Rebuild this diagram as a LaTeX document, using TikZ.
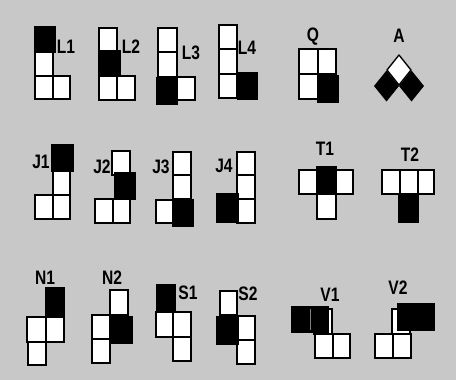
\documentclass[tikz,border=0pt]{standalone}
\usepackage{fontspec}
\newfontfamily\labfont[FakeStretch=0.8]{Liberation Sans Bold}
\definecolor{bg}{RGB}{200,200,200}
\begin{document}
\begin{tikzpicture}[x=1pt,y=-1pt,
  wcell/.style={draw=black,fill=white,line width=1.6pt},
  bcell/.style={draw=black,fill=black,line width=1.2pt},
  lab/.style={font=\labfont\fontsize{19.5}{19.5}\selectfont,inner sep=0pt,anchor=center}]
\fill[bg] (0,0) rectangle (456,380);
\useasboundingbox (0,0) rectangle (456,380);
% ---------- row 1 ----------
% L1
\draw[wcell] (35,52) rectangle (53,76);
\draw[wcell] (35,76) rectangle (53,99);
\draw[wcell] (53,76) rectangle (70,99);
\draw[bcell] (35,27) rectangle (55,52);
\node[lab] (lL1) at (66,47) {L1};
% L2
\draw[wcell] (99,28) rectangle (117,52);
\draw[wcell] (99,76) rectangle (117,100);
\draw[wcell] (117,76) rectangle (135,100);
\draw[bcell] (99,51) rectangle (120,76);
\node[lab] (lL2) at (131,47) {L2};
% L3
\draw[wcell] (158,28) rectangle (177,52);
\draw[wcell] (158,52) rectangle (177,77);
\draw[wcell] (177,77) rectangle (195,100);
\draw[bcell] (157,78) rectangle (177,104);
\node[lab] (lL3) at (191,53) {L3};
% L4
\draw[wcell] (219,25) rectangle (237,49);
\draw[wcell] (219,49) rectangle (237,74);
\draw[wcell] (219,74) rectangle (237,98);
\draw[bcell] (238,73) rectangle (257,99);
\node[lab] (lL4) at (247,48) {L4};
% Q
\draw[wcell] (299,49) rectangle (318,74);
\draw[wcell] (318,49) rectangle (336,74);
\draw[wcell] (299,74) rectangle (318,99);
\draw[bcell] (318,76) rectangle (338,102);
\node[lab] (lQ) at (313,37) {Q};
% A
\node[lab] (lA) at (399,36) {A};
\fill[black] (386.5,70.5) -- (399,86) -- (386.5,101.5) -- (374,86) -- cycle;
\fill[black] (411.5,70.5) -- (424,86) -- (411.5,101.5) -- (399,86) -- cycle;
\draw[fill=white,line width=1.4pt,line join=round] (399,55) -- (411,70) -- (399,85) -- (387,70) -- cycle;
% ---------- row 2 ----------
% J1
\draw[wcell] (53,171) rectangle (70,195);
\draw[wcell] (35,195) rectangle (53,219);
\draw[wcell] (53,195) rectangle (70,219);
\draw[bcell] (52,145) rectangle (73,171);
\node[lab] (lJ1) at (41,162) {J1};
% J2
\draw[wcell] (112,151) rectangle (130,175);
\draw[wcell] (95,199) rectangle (113,223);
\draw[wcell] (113,199) rectangle (130,223);
\draw[bcell] (115,173) rectangle (135,199);
\node[lab] (lJ2) at (102,167) {J2};
% J3
\draw[wcell] (173,152) rectangle (191,175);
\draw[wcell] (173,175) rectangle (191,199);
\draw[wcell] (156,200) rectangle (173,223);
\draw[bcell] (173,200) rectangle (193,226);
\node[lab] (lJ3) at (161,167) {J3};
% J4
\draw[wcell] (237,152) rectangle (255,175);
\draw[wcell] (237,175) rectangle (255,199);
\draw[wcell] (237,199) rectangle (255,223);
\draw[bcell] (217,194) rectangle (238,222);
\node[lab] (lJ4) at (224,166) {J4};
% T1
\draw[wcell] (299,170) rectangle (317,194);
\draw[wcell] (336,170) rectangle (353,194);
\draw[wcell] (317,194) rectangle (336,219);
\draw[bcell] (317,167) rectangle (336,192);
\node[lab] (lT1) at (325,149) {T1};
% T2
\draw[wcell] (382,170) rectangle (400,194);
\draw[wcell] (400,170) rectangle (418,194);
\draw[wcell] (418,170) rectangle (434,194);
\draw[bcell] (399,194) rectangle (418,222);
\node[lab] (lT2) at (410,155) {T2};
% ---------- row 3 ----------
% N1
\draw[wcell] (27,317) rectangle (46,342);
\draw[wcell] (46,317) rectangle (64,342);
\draw[wcell] (28,342) rectangle (46,365);
\draw[bcell] (46,288) rectangle (64,316);
\node[lab] (lN1) at (45,278) {N1};
% N2
\draw[wcell] (110,290) rectangle (128,315);
\draw[wcell] (92,315) rectangle (110,339);
\draw[wcell] (92,339) rectangle (110,363);
\draw[bcell] (110,317) rectangle (132,343);
\node[lab] (lN2) at (112,278) {N2};
% S1
\draw[wcell] (156,312) rectangle (173,337);
\draw[wcell] (173,312) rectangle (191,337);
\draw[wcell] (173,337) rectangle (191,361);
\draw[bcell] (157,285) rectangle (175,310);
\node[lab] (lS1) at (188,293) {S1};
% S2
\draw[wcell] (220,291) rectangle (237,315);
\draw[wcell] (237,316) rectangle (255,340);
\draw[wcell] (237,340) rectangle (255,364);
\draw[bcell] (217,317) rectangle (238,344);
\node[lab] (lS2) at (248,294) {S2};
% V1
\draw[wcell] (314,309) rectangle (332,334);
\draw[wcell] (315,334) rectangle (333,358);
\draw[wcell] (333,334) rectangle (350,358);
\draw[bcell] (292,307) rectangle (328,332);
\draw[gray,line width=0.5pt] (310,309) -- (310,330);
\node[lab] (lV1) at (330,295) {V1};
% V2
\draw[wcell] (392,309) rectangle (410,334);
\draw[wcell] (375,334) rectangle (393,358);
\draw[wcell] (393,334) rectangle (411,358);
\draw[bcell] (398,304) rectangle (434,330);
\node[lab] (lV2) at (398,288) {V2};
\end{tikzpicture}
\end{document}
